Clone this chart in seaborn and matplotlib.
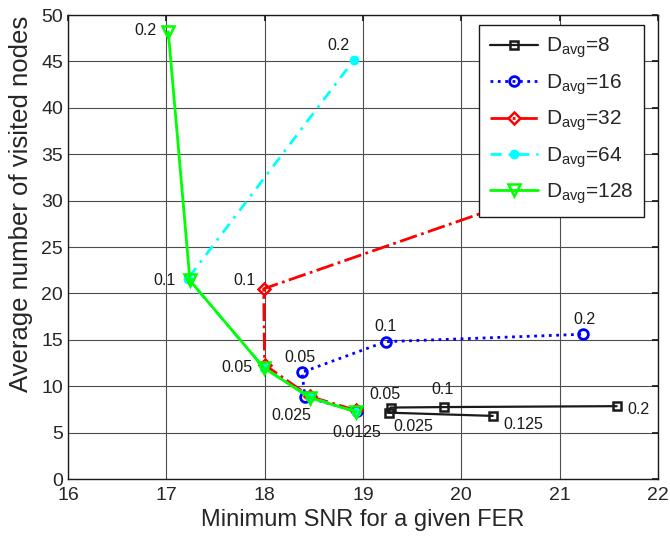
import matplotlib
matplotlib.use("Agg")
import matplotlib.pyplot as plt
import seaborn as sns
import pandas as pd

# FER targets attached to each point (order = drawing order of the curve)
fer8 = ["0.125", "0.025", "0.05", "0.1", "0.2"]
snr8 = [20.32, 19.26, 19.28, 19.82, 21.58]
nodes8 = [6.8, 7.15, 7.7, 7.75, 7.85]

fer16 = ["0.0125", "0.025", "0.05", "0.1", "0.2"]
snr16 = [18.94, 18.41, 18.38, 19.23, 21.24]
nodes16 = [7.3, 8.85, 11.5, 14.8, 15.6]

fer32 = ["0.0125", "0.025", "0.05", "0.1", "0.2"]
snr32 = [18.93, 18.46, 18.0, 17.99, 21.2]
nodes32 = [7.4, 8.9, 12.3, 20.5, 32.3]

fer64 = ["0.0125", "0.025", "0.05", "0.1", "0.2"]
snr64 = [18.93, 18.46, 17.99, 17.22, 18.91]
nodes64 = [7.25, 8.8, 12.0, 21.6, 45.2]

fer128 = ["0.0125", "0.025", "0.05", "0.1", "0.2"]
snr128 = [18.93, 18.46, 17.99, 17.24, 17.02]
nodes128 = [7.23, 8.77, 12.0, 21.4, 48.2]

davg = [8, 16, 32, 64, 128]

sns.set_theme(style="white")
plt.rcParams["font.family"] = ["Liberation Sans", "DejaVu Sans"]
plt.rcParams["mathtext.fontset"] = "custom"
plt.rcParams["mathtext.rm"] = "Liberation Sans"

fig = plt.figure(figsize=(6.7, 5.37), dpi=100)
ax = fig.add_axes([0.1015, 0.108, 0.8805, 0.864])

series = [
    (snr8, nodes8, fer8, dict(color="k", linestyle="-", marker="s", markersize=6,
                              mfc="none", mec="k", mew=1.8, linewidth=1.6)),
    (snr16, nodes16, fer16, dict(color="#0000ff", linestyle=":", marker="o", markersize=7,
                                 mfc="none", mec="#0000ff", mew=2.0, linewidth=2.0)),
    (snr32, nodes32, fer32, dict(color="#ff0000", linestyle="-.", marker="D", markersize=6,
                                 mfc="none", mec="#ff0000", mew=1.8, linewidth=2.0)),
    (snr64, nodes64, fer64, dict(color="#00ffff", linestyle=(0, (4, 2.5, 1, 2.5)), marker="o",
                                 markersize=6, mfc="#00ffff", mec="#00ffff", mew=1.0,
                                 linewidth=2.0)),
    (snr128, nodes128, fer128, dict(color="#00ff00", linestyle="-", marker="v", markersize=8,
                                    mfc="none", mec="#00ff00", mew=1.8, linewidth=2.0)),
]

for (x, y, f, style), d in zip(series, davg):
    df = pd.DataFrame({"snr": x, "nodes": y})
    sns.lineplot(data=df, x="snr", y="nodes", sort=False, estimator=None, ax=ax,
                 label=r"D$_\mathregular{avg}$=%d" % d, **style)

# (series index, FER label, offset in pixels)
notes = [
    (0, "0.05", (-6, 13)), (0, "0.1", (-1, 18)), (0, "0.025", (25, -14)),
    (0, "0.125", (31, -9)), (0, "0.2", (22, -3)),
    (1, "0.05", (-2, 15)), (1, "0.025", (-14, -19)), (1, "0.0125", (0, -21)),
    (1, "0.1", (0, 15)), (1, "0.2", (1, 15)),
    (2, "0.1", (-19, 8)),
    (3, "0.2", (-16, 14)),
    (4, "0.2", (-23, 1)), (4, "0.1", (-25, 0)), (4, "0.05", (-27, 0)),
]
for i, lab, off in notes:
    x, y, f, _ = series[i]
    k = f.index(lab)
    ax.annotate(lab, (x[k], y[k]), xytext=off, textcoords="offset pixels",
                ha="center", va="center", fontsize=11.5, color="k")

ax.set_xlim(16, 22)
ax.set_ylim(0, 50)
ax.set_xticks(range(16, 23))
ax.set_yticks(range(0, 51, 5))
ax.grid(True, color="0.3", linewidth=0.8, linestyle="-")
ax.tick_params(direction="in", labelsize=14, top=True, right=True, length=4, color="k")
ax.tick_params(axis="x", pad=6)
for s in ax.spines.values():
    s.set_color("k")
    s.set_linewidth(1.0)
ax.set_xlabel("Minimum SNR for a given FER", fontsize=17, labelpad=3)
ax.set_ylabel("Average number of visited nodes", fontsize=18.5)
ax.yaxis.set_label_coords(-0.06, 0.594)

leg = ax.legend(loc="upper right", bbox_to_anchor=(0.976, 0.978), borderaxespad=0,
                fontsize=15, frameon=True, fancybox=False, framealpha=1,
                edgecolor="k", handlelength=2.3, handletextpad=0.4, labelspacing=0.56,
                borderpad=0.5)
leg.get_frame().set_linewidth(1.0)

fig.savefig("out.png", dpi=100)
